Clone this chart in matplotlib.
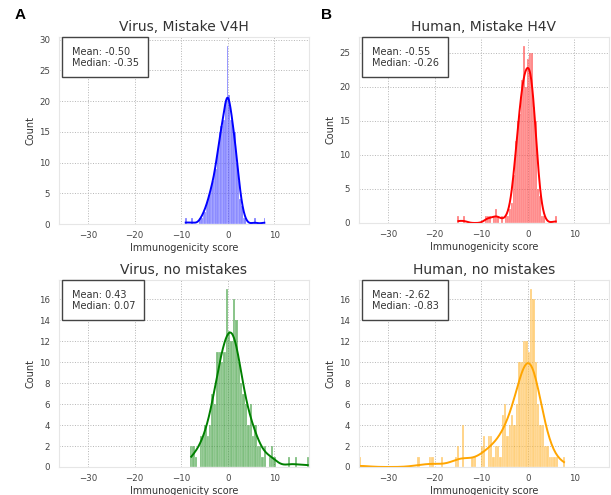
import numpy as np
import pandas as pd
import matplotlib; matplotlib.use("Agg")
import matplotlib.pyplot as plt
from matplotlib.ticker import MultipleLocator
import seaborn as sns

# histogram counts, with the bin range of each panel
v4h_range=(-9.2,8.0)
v4h_counts=[1,0,0,0,1,0,0,0,0,1,1,2,2,3,4,5,6,7,8,9,12,15,16,16,17,20,29,21,17,17,
            15,15,10,7,4,3,1,1,0,0,0,0,0,1,0,0,0,0,0,1]
h4v_range=(-15.1,6.2)
h4v_counts=[1,0,0,1,0,0,0,0,0,0,0,0,0,0,1,1,1,0,1,2,1,0,1,0,1,1,2,3,7,12,
            15,16,21,26,20,24,25,25,17,15,5,4,1,1,0,0,0,0,0,1]
virus_range=(-8.1,17.4)
virus_counts=[2,2,1,0,3,3,4,3,4,7,6,11,11,10,11,17,13,12,16,14,10,8,7,6,4,6,3,4,2,2,
              1,2,0,1,2,1,0,0,0,0,0,1,0,0,1,0,0,0,0,1]
human_range=(-36.3,8.0)
human_counts=[1,0,0,0,0,0,0,0,0,0,0,0,0,0,0,0,0,0,0,0,0,0,0,0,0,1,0,0,0,0,
              1,1,0,0,0,1,0,0,0,0,0,1,2,0,4,0,0,0,1,1,0,0,2,3,0,3,3,1,2,2,
              1,5,6,3,4,5,4,6,10,10,12,12,11,17,16,10,6,4,4,2,2,1,1,1,1,0,0,1]
XLIM=(-36.3,17.4)
XTICKS=[-30,-20,-10,0,10]

TXT="#333333"
plt.rcParams["font.family"]=["DejaVu Sans"]
fig=plt.figure(figsize=(6.11,4.95),dpi=100)
W,H=611,495
def axes_px(l,t,r,b): return fig.add_axes([l/W,(H-b)/H,(r-l)/W,(b-t)/H])

def panel(ax,counts,rng,color,title,stats,ystep):
    edges=np.linspace(rng[0],rng[1],len(counts)+1)
    # one score per counted sample, placed at its bin centre
    scores=np.repeat((edges[:-1]+edges[1:])/2,counts)
    df=pd.DataFrame({"score":scores})
    sns.histplot(data=df,x="score",bins=list(edges),kde=True,color=color,ax=ax,
                 alpha=0.5,edgecolor="white",linewidth=0.15,line_kws=dict(lw=1.4))
    ax.set_xlim(*XLIM); ax.set_xticks(XTICKS)
    ax.yaxis.set_major_locator(MultipleLocator(ystep))
    ax.set_title(title,fontsize=10,pad=4,color=TXT)
    ax.set_xlabel("Immunogenicity score",fontsize=7,labelpad=2,color=TXT)
    ax.set_ylabel("Count",fontsize=7,labelpad=3,color=TXT)
    ax.tick_params(labelsize=6.2,length=0,labelcolor="#444444")
    ax.tick_params(axis="x",pad=5); ax.tick_params(axis="y",pad=6)
    ax.grid(True,ls=":",color="#b5b5b5",lw=0.7); ax.set_axisbelow(True)
    for s in ax.spines.values(): s.set_color("#e6e6e6")
    ax.annotate(stats,xy=(0,1),xycoords="axes fraction",xytext=(9.5,-7),
                textcoords="offset points",ha="left",va="top",fontsize=7,color=TXT,
                linespacing=1.1,
                bbox=dict(boxstyle="square,pad=0.95",fc="white",ec="#444444",lw=1))

axA=axes_px(58.5,37,309,224); axB=axes_px(358.5,37,609,223)
axC=axes_px(58.5,280,309,467); axD=axes_px(358.5,280,609,467)
panel(axA,v4h_counts,v4h_range,"blue","Virus, Mistake V4H","Mean: -0.50\nMedian: -0.35",5)
panel(axB,h4v_counts,h4v_range,"red","Human, Mistake H4V","Mean: -0.55\nMedian: -0.26",5)
panel(axC,virus_counts,virus_range,"green","Virus, no mistakes","Mean: 0.43\nMedian: 0.07",2)
panel(axD,human_counts,human_range,"orange","Human, no mistakes","Mean: -2.62\nMedian: -0.83",2)

for lab,x in (("A",20),("B",327)):
    fig.text(x/W,1-15/H,lab,fontsize=11,fontweight="bold",ha="center",va="center",
             family=["Liberation Sans","DejaVu Sans"])

fig.savefig("out.png",dpi=100)
